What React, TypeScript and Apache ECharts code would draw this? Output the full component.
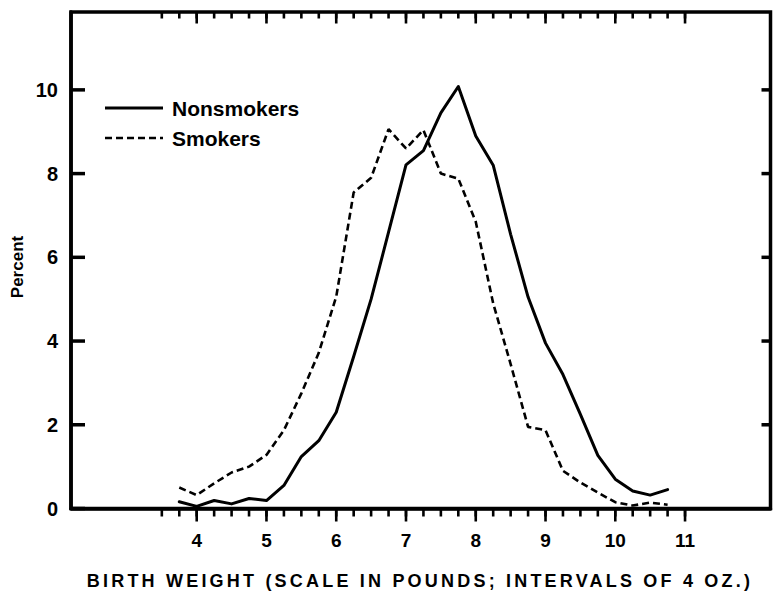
import React, { useEffect, useRef } from "react";
import * as echarts from "echarts";

// Birth weight in pounds (4-oz intervals)
const WEIGHTS = [3.75, 4, 4.25, 4.5, 4.75, 5, 5.25, 5.5, 5.75, 6, 6.25, 6.5, 6.75, 7, 7.25, 7.5, 7.75, 8, 8.25, 8.5, 8.75, 9, 9.25, 9.5, 9.75, 10, 10.25, 10.5, 10.75];
const NONSMOKERS = [0.16, 0.05, 0.19, 0.11, 0.24, 0.19, 0.55, 1.24, 1.62, 2.3, 3.63, 5.0, 6.6, 8.21, 8.55, 9.45, 10.08, 8.9, 8.2, 6.55, 5.05, 3.95, 3.2, 2.25, 1.27, 0.7, 0.42, 0.32, 0.45];
const SMOKERS = [0.5, 0.32, 0.6, 0.86, 1.0, 1.28, 1.87, 2.75, 3.72, 5.06, 7.55, 7.9, 9.06, 8.6, 9.04, 8.0, 7.88, 6.85, 4.9, 3.45, 1.95, 1.87, 0.9, 0.62, 0.38, 0.15, 0.07, 0.14, 0.09];

const X_MAJOR_TICKS = [4, 5, 6, 7, 8, 9, 10, 11];
const X_MINOR_TICKS = [3.5, 3.75, 4, 4.25, 4.5, 4.75, 5, 5.25, 5.5, 5.75, 6, 6.25, 6.5, 6.75, 7, 7.25, 7.5, 7.75, 8, 8.25, 8.5, 8.75, 9, 9.25, 9.5, 9.75, 10, 10.25, 10.5, 10.75, 11];
const Y_TICKS = [0, 2, 4, 6, 8, 10];
const Y_RIGHT_TICKS = [2, 4, 6, 8, 10];

const X_TITLE = "BIRTH WEIGHT (SCALE IN POUNDS; INTERVALS OF 4 OZ.)";
const Y_TITLE = "Percent";
const SERIES_NAMES = ["Nonsmokers", "Smokers"];

const FONT = "'Liberation Sans', Arial, Helvetica, sans-serif";
const WIDTH = 773;
const HEIGHT = 593;
const GRID = { left: 71, right: 2.5, top: 12, bottom: 84.5 };
const X_MIN = 2.198;
const X_MAX = 12.225;
const Y_MIN = 0;
const Y_MAX = 11.86;

type Side = "bottom" | "top" | "left" | "right";

// Same linear mapping as the value axes (grid box + axis extent), used only for the axis tick marks
const plotW = WIDTH - GRID.left - GRID.right;
const plotH = HEIGHT - GRID.top - GRID.bottom;
const xPx = (v: number) => GRID.left + ((v - X_MIN) / (X_MAX - X_MIN)) * plotW;
const yPx = (v: number) => HEIGHT - GRID.bottom - ((v - Y_MIN) / (Y_MAX - Y_MIN)) * plotH;

function tickLines(values: number[], side: Side, length: number, width: number) {
  return values.map((v) => {
    let x1: number, y1: number, x2: number, y2: number;
    if (side === "bottom") { x1 = x2 = xPx(v); y1 = yPx(Y_MIN); y2 = y1 + length; }
    else if (side === "top") { x1 = x2 = xPx(v); y1 = yPx(Y_MAX); y2 = y1 + length; }
    else if (side === "left") { y1 = y2 = yPx(v); x1 = xPx(X_MIN); x2 = x1 + length; }
    else { y1 = y2 = yPx(v); x1 = xPx(X_MAX); x2 = x1 - length; }
    return {
      type: "line",
      silent: true,
      shape: { x1, y1, x2, y2 },
      style: { stroke: "#000", lineWidth: width },
    };
  });
}

export default function App() {
  const ref = useRef<HTMLDivElement>(null);

  useEffect(() => {
    if (!ref.current) return;
    const chart = echarts.init(ref.current, null, { renderer: "svg" });

    const graphics: any[] = [
      {
        type: "text", x: 420, y: 581,
        style: { text: X_TITLE, textAlign: "center", textVerticalAlign: "middle", fontFamily: FONT, fontSize: 18, fontWeight: "bold", fill: "#000" },
      },
      {
        type: "text", x: 17, y: 267, rotation: Math.PI / 2,
        style: { text: Y_TITLE, textAlign: "center", textVerticalAlign: "middle", fontFamily: FONT, fontSize: 17, fontWeight: "bold", fill: "#000" },
      },
      // legend
      { type: "line", shape: { x1: 105, y1: 108, x2: 163, y2: 108 }, style: { stroke: "#000", lineWidth: 3 } },
      {
        type: "text", x: 172, y: 108,
        style: { text: SERIES_NAMES[0], textAlign: "left", textVerticalAlign: "middle", fontFamily: FONT, fontSize: 21, fontWeight: "bold", fill: "#000" },
      },
      { type: "line", shape: { x1: 105, y1: 138, x2: 163, y2: 138 }, style: { stroke: "#000", lineWidth: 2.6, lineDash: [7, 4] } },
      {
        type: "text", x: 172, y: 138,
        style: { text: SERIES_NAMES[1], textAlign: "left", textVerticalAlign: "middle", fontFamily: FONT, fontSize: 21, fontWeight: "bold", fill: "#000" },
      },
      // tick marks
      ...tickLines(X_MAJOR_TICKS, "bottom", 13, 2.6),
      ...tickLines(X_MINOR_TICKS, "bottom", 8, 2.6),
      ...tickLines(X_MAJOR_TICKS, "top", 11.5, 2.6),
      ...tickLines(X_MINOR_TICKS, "top", 6.5, 2.6),
      ...tickLines(Y_TICKS, "left", 14, 3.5),
      ...tickLines(Y_RIGHT_TICKS, "right", 9, 3.5),
    ];

    const option: any = {
      animation: false,
      grid: { ...GRID, show: true, borderColor: "#000", borderWidth: 3.5, backgroundColor: "transparent" },
      xAxis: {
        type: "value", min: X_MIN, max: X_MAX,
        splitLine: { show: false },
        axisLine: { show: true, onZero: false, lineStyle: { color: "#000", width: 3.5 } },
        axisTick: { show: false },
        axisLabel: { show: true, customValues: X_MAJOR_TICKS, margin: 22, fontFamily: FONT, fontSize: 19, fontWeight: "bold", color: "#000" },
      },
      yAxis: {
        type: "value", min: Y_MIN, max: Y_MAX,
        splitLine: { show: false },
        axisLine: { show: true, onZero: false, lineStyle: { color: "#000", width: 3.5 } },
        axisTick: { show: false },
        axisLabel: { show: true, customValues: Y_TICKS, margin: 13, fontFamily: FONT, fontSize: 20, fontWeight: "bold", color: "#000" },
      },
      graphic: graphics,
      series: [
        {
          name: SERIES_NAMES[0], type: "line", symbol: "none", smooth: false,
          data: WEIGHTS.map((w, i) => [w, NONSMOKERS[i]]),
          lineStyle: { color: "#000", width: 3, type: "solid", join: "round", cap: "round" },
          itemStyle: { color: "#000" },
        },
        {
          name: SERIES_NAMES[1], type: "line", symbol: "none", smooth: false,
          data: WEIGHTS.map((w, i) => [w, SMOKERS[i]]),
          lineStyle: { color: "#000", width: 2.6, type: [7, 4] },
          itemStyle: { color: "#000" },
        },
      ],
    };

    chart.setOption(option);

    // widen the spacing of the axis title letters, as in the printed figure
    ref.current.querySelectorAll("text").forEach((t) => {
      if (t.textContent === X_TITLE) t.setAttribute("letter-spacing", "3.2");
    });

    return () => chart.dispose();
  }, []);

  return (
    <div style={{ position: "fixed", left: 0, top: 0, width: WIDTH, height: HEIGHT, background: "#fff" }}>
      <div ref={ref} style={{ width: WIDTH, height: HEIGHT }} />
    </div>
  );
}
